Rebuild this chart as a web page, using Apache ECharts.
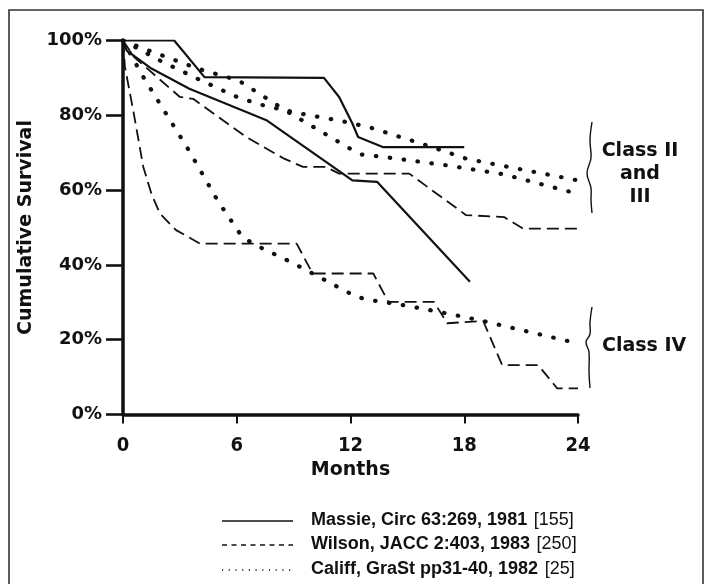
<!DOCTYPE html>
<html>
<head>
<meta charset="utf-8">
<script src="https://cdn.jsdelivr.net/npm/echarts@6/dist/echarts.min.js"></script>
<style>
  html, body { margin: 0; padding: 0; background: #fff; }
  #chart { width: 707px; height: 584px; }
</style>
</head>
<body>
<div id="chart"></div>
<script>
// Axis ticks
const monthTicks = [0, 6, 12, 18, 24];
const survivalTicks = [0, 20, 40, 60, 80, 100];

// Massie (solid): [month, cumulative survival %]
const massieClassII_III = [[0, 100], [2.7, 100], [4.3, 90.2], [10.6, 90.0], [11.4, 84.9], [12.1, 77.8], [12.4, 74.2], [13.7, 71.5], [18.0, 71.5]];
const massieClassIV = [[0, 100], [0.2, 97.3], [1.5, 92.5], [3.5, 87.1], [7.6, 78.6], [12.1, 62.6], [13.4, 62.2], [18.3, 35.5]];

// Wilson (dashed)
const wilsonClassII_III = [[0, 100], [0.6, 95.5], [3.0, 84.9], [3.7, 84.4], [6.5, 74.2], [8.5, 68.4], [9.5, 66.2], [10.7, 66.2], [11.4, 64.4], [15.1, 64.4], [18.1, 53.3], [20.1, 52.8], [21.1, 49.7], [24, 49.7]];
const wilsonClassIV = [[0, 100], [0.1, 93], [0.55, 81], [1.07, 66.2], [1.5, 59], [1.95, 53.7], [2.8, 49.3], [4.06, 45.7], [9.16, 45.7], [10.0, 37.7], [13.2, 37.7], [14.0, 30.1], [16.4, 30.1], [17.1, 24.4], [19.0, 25.0], [20.0, 13.2], [21.9, 13.2], [22.9, 7.0], [24, 7.0]];

// Califf (dotted): two Class II-III curves and one Class IV curve
const califfClassII_III_a = [[0, 100], [1.1, 97.8], [4.0, 92.4], [6.1, 89.3], [7.4, 85.1], [8.5, 81.5], [9.2, 80.6], [11.5, 78.5], [13.0, 76.8], [16.0, 72.0], [17.4, 69.6], [18.1, 68.4], [24, 62.6]];
const califfClassII_III_b = [[0, 100], [2.0, 94.5], [4.0, 89.6], [6.1, 84.7], [7.7, 82.2], [8.5, 81.5], [12.0, 71.0], [12.6, 69.5], [14.0, 68.7], [17.1, 66.6], [20.1, 64.2], [24, 59.0]];
const califfClassIV = [[0, 100], [0.7, 93.6], [1.1, 90.0], [2.3, 80.2], [3.5, 70.4], [5.0, 57.1], [6.3, 47.4], [7.0, 45.3], [9.0, 40.4], [11.0, 35.0], [12.3, 31.5], [13.0, 30.6], [14.5, 29.5], [16.0, 28.1], [17.5, 26.6], [19.0, 25.0], [24, 19.0]];

// Legend entries
const legendNames = ['Massie, Circ 63:269, 1981', 'Wilson, JACC 2:403, 1983', 'Califf, GraSt pp31-40, 1982'];
const legendRefs = ['[155]', '[250]', '[25]'];

// Group labels on the right
const groupLabels = ['Class II\nand\nIII', 'Class IV'];

const INK = '#111';
const solidStyle = { color: INK, width: 2.2, type: 'solid' };
const dashedStyle = { color: INK, width: 1.8, type: [12, 6] };
const dottedStyle = { color: INK, width: 4.2, type: [0.5, 13.5], cap: 'round' };

function curve(name, data, lineStyle) {
  return {
    name: name,
    type: 'line',
    data: data,
    showSymbol: false,
    symbol: 'none',
    lineStyle: lineStyle,
    silent: true
  };
}

const chart = echarts.init(document.getElementById('chart'), null, { renderer: 'canvas' });

const legendY = [521, 545, 570];
const legendStyles = [
  { stroke: INK, lineWidth: 1.6 },
  { stroke: INK, lineWidth: 1.4, lineDash: [5, 4.5] },
  { stroke: INK, lineWidth: 1.3, lineDash: [1.2, 5.5] }
];

const braceStyle = { fill: null, stroke: INK, lineWidth: 1.4 };

const graphics = [
  // outer frame
  { type: 'rect', shape: { x: 9, y: 10, width: 694, height: 600 }, style: { fill: null, stroke: '#333', lineWidth: 1.6 }, silent: true },
  // curly braces grouping the curve ends
  { type: 'polyline', shape: { points: [[592, 122], [590, 140], [591, 158], [587, 173], [591, 188], [591, 200], [592, 213]], smooth: 0.4 }, style: braceStyle, silent: true },
  { type: 'polyline', shape: { points: [[592, 307], [590, 322], [590, 334], [586, 342], [589, 352], [589, 372], [590, 388]], smooth: 0.4 }, style: braceStyle, silent: true },
  { type: 'text', x: 640, y: 140, style: { text: groupLabels[0], font: 'bold 19px "DejaVu Sans"', fill: INK, align: 'center', lineHeight: 23 }, silent: true },
  { type: 'text', x: 602, y: 337, style: { text: groupLabels[1], font: 'bold 19px "DejaVu Sans"', fill: INK }, silent: true }
];

legendNames.forEach(function (name, i) {
  graphics.push({
    type: 'line',
    shape: { x1: 222, y1: legendY[i], x2: 293, y2: legendY[i] },
    style: legendStyles[i],
    silent: true
  });
  graphics.push({
    type: 'text',
    x: 311,
    y: legendY[i] - 10,
    style: {
      text: '{b|' + name + '}  {r|' + legendRefs[i] + '}',
      rich: {
        b: { font: 'bold 18px "Liberation Sans"', fill: INK },
        r: { font: '18px "Liberation Sans"', fill: INK }
      }
    },
    silent: true
  });
});

chart.setOption({
  animation: false,
  backgroundColor: '#fff',
  grid: { left: 123, right: 129, top: 40.5, bottom: 169.5, containLabel: false },
  xAxis: {
    type: 'value',
    min: monthTicks[0],
    max: monthTicks[monthTicks.length - 1],
    interval: monthTicks[1] - monthTicks[0],
    name: 'Months',
    nameLocation: 'middle',
    nameGap: 46,
    nameTextStyle: { fontFamily: 'DejaVu Sans', fontWeight: 'bold', fontSize: 19, color: INK },
    axisLine: { show: true, lineStyle: { color: INK, width: 3.5 } },
    axisTick: { show: true, inside: false, length: 9, lineStyle: { color: INK, width: 2 } },
    axisLabel: { margin: 21, fontFamily: 'DejaVu Sans Condensed', fontWeight: 'bold', fontSize: 20, color: INK },
    splitLine: { show: false }
  },
  yAxis: {
    type: 'value',
    min: survivalTicks[0],
    max: survivalTicks[survivalTicks.length - 1],
    interval: survivalTicks[1] - survivalTicks[0],
    name: 'Cumulative Survival',
    nameLocation: 'middle',
    nameGap: 74,
    nameRotate: 90,
    nameTextStyle: { fontFamily: 'DejaVu Sans', fontWeight: 'bold', fontSize: 19, color: INK },
    axisLine: { show: true, lineStyle: { color: INK, width: 3.5 } },
    axisTick: { show: true, inside: false, length: 17, lineStyle: { color: INK, width: 2.6 } },
    axisLabel: { margin: 21, formatter: '{value}%', fontFamily: 'DejaVu Sans', fontWeight: 'bold', fontSize: 18, color: INK },
    splitLine: { show: false }
  },
  series: [
    curve('Massie II-III', massieClassII_III, solidStyle),
    curve('Massie IV', massieClassIV, solidStyle),
    curve('Wilson II-III', wilsonClassII_III, dashedStyle),
    curve('Wilson IV', wilsonClassIV, dashedStyle),
    curve('Califf II-III a', califfClassII_III_a, dottedStyle),
    curve('Califf II-III b', califfClassII_III_b, dottedStyle),
    curve('Califf IV', califfClassIV, dottedStyle)
  ],
  graphic: graphics
});
</script>
</body>
</html>
